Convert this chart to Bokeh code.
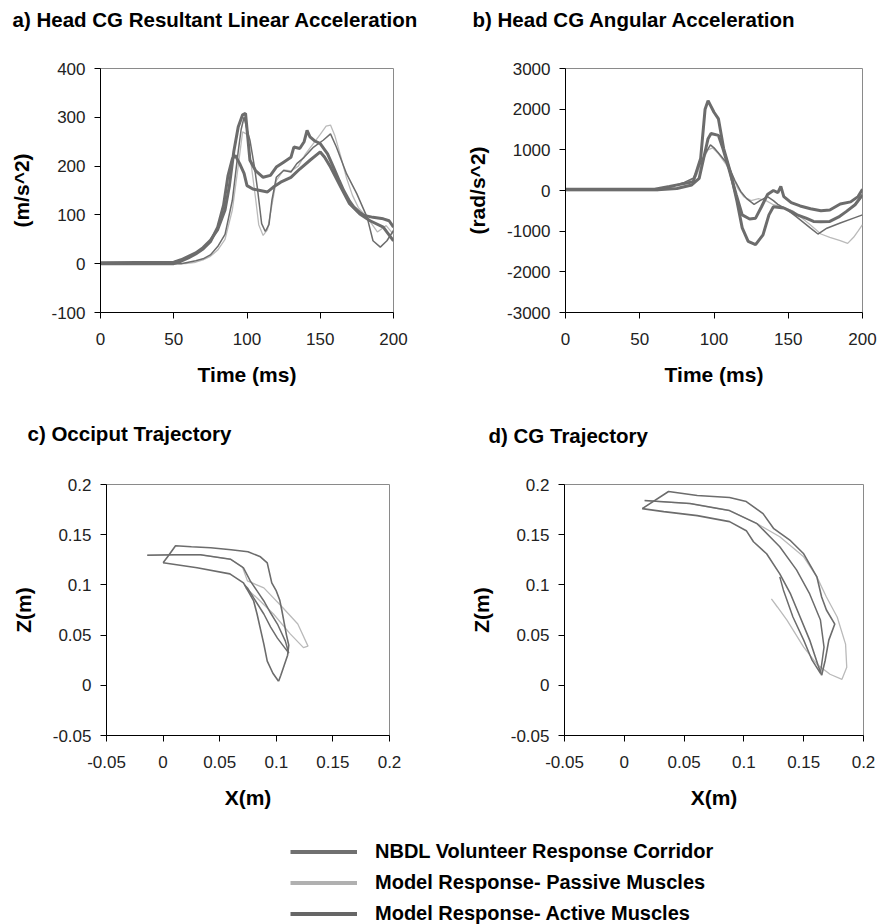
from bokeh.plotting import figure
from bokeh.layouts import column, row
from bokeh.models import Range1d, FixedTicker, PrintfTickFormatter, Legend, LegendItem, Title
from bokeh.core.properties import value
from bokeh.embed import file_html
from bokeh.resources import INLINE

# ---------------- data ----------------
# a) Head CG resultant linear acceleration (m/s^2) vs time (ms)
A_CORR_UP_T = [0, 50, 55, 60, 65, 70, 75, 80, 85, 88, 91, 94, 97, 99, 102, 106, 111, 116, 120, 125,
               130, 132, 136, 139, 141, 143, 146, 150, 155, 159, 163, 166, 170, 173, 177, 180, 186, 193, 197, 200]
A_CORR_UP_V = [2, 3, 8, 15, 22, 33, 48, 70, 110, 160, 230, 280, 305, 308, 212, 190, 177, 181, 198, 208,
               218, 239, 236, 250, 273, 260, 252, 246, 225, 198, 170, 150, 128, 116, 105, 99, 95, 92, 88, 75]
A_CORR_LO_T = [0, 50, 55, 60, 65, 70, 75, 80, 84, 87, 90, 92, 95, 98, 100, 104, 109, 114, 118, 123,
               130, 136, 143, 150, 153, 157, 164, 170, 177, 184, 193, 200]
A_CORR_LO_V = [0, 0, 5, 12, 20, 30, 45, 75, 120, 180, 215, 222, 205, 185, 160, 153, 150, 147, 157, 167,
               177, 194, 212, 229, 218, 198, 157, 123, 102, 88, 75, 47]
A_ACT_T = [0, 55, 60, 65, 70, 75, 80, 85, 90, 94, 96, 98, 100, 102, 105, 107, 110, 112.5, 115, 117,
           120, 125, 130, 134, 139, 145.5, 152, 157, 161, 168, 175, 182, 186, 191, 195.5, 200]
A_ACT_V = [0, 0, 3, 6, 10, 18, 35, 60, 130, 230, 275, 300, 275, 253, 200, 157, 82, 66, 80, 130,
           177, 191, 188, 205, 218, 239, 253, 266, 239, 184, 143, 95, 47, 34, 47, 68]
A_PAS_T = [0, 58, 65, 70, 75, 80, 85, 90, 94, 97, 100, 103, 106, 108, 111, 114, 117, 120, 125, 130,
           135, 140, 145, 150, 154, 157, 160, 164, 168, 172, 176, 182, 189, 195, 200]
A_PAS_V = [0, 0, 3, 8, 15, 28, 50, 110, 200, 270, 265, 200, 130, 80, 58, 70, 120, 170, 192, 190,
           200, 225, 245, 265, 282, 284, 262, 220, 175, 140, 115, 95, 65, 78, 60]

# b) Head CG angular acceleration (rad/s^2) vs time (ms)
B_CORR_A_T = [0, 60, 70, 77, 86, 91, 94, 96, 100, 103, 106.5, 111, 115.5, 119, 123, 128, 133, 137, 140, 147,
              152, 156, 162, 167, 172, 178, 184, 189, 195, 200]
B_CORR_A_V = [30, 30, 100, 150, 215, 786, 2000, 2210, 1925, 1760, 1030, 460, -270, -920, -1250, -1330, -1090, -600, -400, -430,
              -520, -600, -680, -760, -770, -760, -650, -520, -350, -110]
B_CORR_B_T = [0, 62, 75, 85, 90, 93, 96, 98, 103, 106, 110, 115, 119, 124, 128, 132, 136, 140, 143, 145,
              147, 152, 158, 165, 172, 178, 185, 192, 197, 200]
B_CORR_B_V = [20, 20, 50, 135, 300, 786, 1275, 1400, 1355, 1030, 540, -110, -600, -700, -680, -400, -100, 0, -50, 100,
              -150, -300, -380, -450, -500, -480, -330, -280, -150, 30]
B_ACT_T = [0, 60, 70, 80, 86, 90, 94, 97.6, 100, 104, 108, 111, 114, 118, 122, 127, 131, 136, 140, 143,
           149, 156, 165, 170, 176, 185, 194, 200]
B_ACT_V = [20, 20, 80, 200, 300, 600, 900, 1120, 1050, 880, 700, 500, 250, -24, -200, -340, -250, -150, -250, -340,
           -463, -660, -927, -1070, -927, -800, -680, -600]
B_PAS_T = [0, 62, 72, 82, 88, 92, 96, 99, 103, 108, 112, 116, 120, 125, 130, 135, 140, 146, 153, 160,
           165, 172, 178, 185, 190, 194, 197, 200]
B_PAS_V = [0, 0, 100, 200, 350, 700, 1000, 1050, 900, 650, 400, 50, -150, -250, -200, -250, -350, -400, -500, -700,
           -850, -1070, -1150, -1230, -1300, -1150, -1000, -840]

# c) Occiput trajectory, Z(m) vs X(m)
C_CORR_UP_X = [0.000, 0.004, 0.011, 0.025, 0.042, 0.060, 0.075, 0.086, 0.092, 0.094, 0.096, 0.100, 0.103,
               0.105, 0.107, 0.109, 0.111, 0.110, 0.107, 0.104, 0.102]
C_CORR_UP_Y = [0.122, 0.128, 0.139, 0.138, 0.137, 0.135, 0.133, 0.128, 0.122, 0.112, 0.102, 0.094, 0.085,
               0.074, 0.062, 0.050, 0.040, 0.030, 0.020, 0.010, 0.004]
C_CORR_LO_X = [0.000, 0.030, 0.059, 0.071, 0.080, 0.083, 0.086, 0.089, 0.092, 0.097, 0.102]
C_CORR_LO_Y = [0.122, 0.117, 0.111, 0.102, 0.084, 0.071, 0.056, 0.041, 0.024, 0.012, 0.004]
C_ACT_X = [-0.014, 0.010, 0.033, 0.0595, 0.071, 0.077, 0.083, 0.089, 0.095, 0.101, 0.108, 0.111,
           0.107, 0.101, 0.095, 0.089, 0.080, 0.0745, 0.072]
C_ACT_Y = [0.1296, 0.130, 0.130, 0.1256, 0.117, 0.104, 0.094, 0.084, 0.072, 0.061, 0.044, 0.032,
           0.038, 0.047, 0.058, 0.071, 0.087, 0.097, 0.100]
C_PAS_X = [-0.014, 0.010, 0.033, 0.0595, 0.070, 0.0745, 0.089, 0.106, 0.119, 0.128, 0.124, 0.1125,
           0.0975, 0.083, 0.073]
C_PAS_Y = [0.1296, 0.130, 0.130, 0.1256, 0.118, 0.104, 0.097, 0.077, 0.061, 0.039, 0.0375, 0.051,
           0.071, 0.087, 0.097]

# d) CG trajectory, Z(m) vs X(m)
D_CORR_UP_X = [0.015, 0.037, 0.061, 0.088, 0.102, 0.116, 0.125, 0.139, 0.150, 0.161, 0.165, 0.169, 0.176,
               0.171, 0.168, 0.165]
D_CORR_UP_Y = [0.176, 0.193, 0.189, 0.187, 0.183, 0.171, 0.156, 0.144, 0.131, 0.108, 0.088, 0.075, 0.061,
               0.045, 0.025, 0.010]
D_CORR_LO_X = [0.015, 0.033, 0.061, 0.088, 0.102, 0.108, 0.119, 0.130, 0.139, 0.147, 0.155, 0.162, 0.165]
D_CORR_LO_Y = [0.176, 0.173, 0.169, 0.163, 0.154, 0.143, 0.131, 0.111, 0.091, 0.068, 0.045, 0.020, 0.010]
D_ACT_X = [0.017, 0.055, 0.088, 0.111, 0.130, 0.144, 0.155, 0.164, 0.167, 0.164, 0.157, 0.150, 0.141,
           0.133, 0.130]
D_ACT_Y = [0.184, 0.181, 0.174, 0.161, 0.138, 0.115, 0.091, 0.065, 0.038, 0.012, 0.025, 0.045, 0.068,
           0.095, 0.108]
D_PAS_X = [0.017, 0.055, 0.088, 0.111, 0.130, 0.150, 0.161, 0.169, 0.178, 0.185, 0.186, 0.182, 0.172,
           0.161, 0.150, 0.136, 0.128, 0.123]
D_PAS_Y = [0.184, 0.181, 0.174, 0.161, 0.148, 0.128, 0.108, 0.088, 0.068, 0.041, 0.018, 0.006, 0.011,
           0.021, 0.038, 0.065, 0.078, 0.086]

TIME_TICKS = [0, 50, 100, 150, 200]
LIN_TICKS = [-100, 0, 100, 200, 300, 400]
ANG_TICKS = [-3000, -2000, -1000, 0, 1000, 2000, 3000]
POS_TICKS = [-0.05, 0, 0.05, 0.1, 0.15, 0.2]

LEGEND_LABELS = ["NBDL Volunteer Response Corridor",
                 "Model Response- Passive Muscles",
                 "Model Response- Active Muscles"]
NO_DATA = [float("nan")]  # legend proxies draw nothing in the strip

# ---------------- style ----------------
DARK = "#6c6c6c"
LIGHT = "#bababa"
FONT = "Liberation Sans"


def make_fig(w, h, ml, mr, mt, mb, xr, yr, xt, yt, title, xlabel, ylabel, toff, gap):
    p = figure(width=w, height=h, output_backend="svg", toolbar_location=None,
               x_range=Range1d(*xr), y_range=Range1d(*yr),
               min_border_left=ml, min_border_right=mr, min_border_top=mt, min_border_bottom=mb,
               title=title)
    p.title.text_font = FONT
    p.title.text_font_size = "20.5px"
    p.title.text_font_style = "bold"
    p.title.text_color = "black"
    p.title.align = "left"
    p.title.offset = toff
    p.title.standoff = 0
    # thin spacer between the frame and the title, so the title sits at the top of the panel
    p.add_layout(Title(text=" ", text_font_size="1px", standoff=gap), "above")
    p.xaxis.ticker = FixedTicker(ticks=xt)
    p.yaxis.ticker = FixedTicker(ticks=yt)
    p.xaxis.formatter = PrintfTickFormatter(format="%g")
    p.yaxis.formatter = PrintfTickFormatter(format="%g")
    p.xaxis.axis_label = xlabel
    p.yaxis.axis_label = ylabel
    for ax in (p.xaxis[0], p.yaxis[0]):
        ax.axis_line_color = "black"
        ax.major_tick_line_color = "black"
        ax.major_tick_in = 0
        ax.major_tick_out = 6
        ax.minor_tick_line_color = None
        ax.major_label_text_font = FONT
        ax.major_label_text_font_size = "17px"
        ax.major_label_text_color = "#222222"
        ax.axis_label_text_font = FONT
        ax.axis_label_text_font_size = "21px"
        ax.axis_label_text_font_style = "bold"
        ax.axis_label_text_color = "black"
    p.xaxis.major_label_standoff = 14
    p.yaxis.major_label_standoff = 9
    p.xaxis.axis_label_standoff = 15
    p.yaxis.axis_label_standoff = 15
    p.xgrid.visible = False
    p.ygrid.visible = False
    p.outline_line_color = "#8a8a8a"
    p.outline_line_width = 1
    p.background_fill_color = "white"
    p.border_fill_color = "white"
    return p


fa = make_fig(430, 400, 100, 37, 68, 88, (0, 200), (-100, 400), TIME_TICKS, LIN_TICKS,
              "a) Head CG Resultant Linear Acceleration", "Time (ms)", "(m/s^2)", -88, 35)
fa.line(A_PAS_T, A_PAS_V, line_color=LIGHT, line_width=1.3)
fa.line(A_ACT_T, A_ACT_V, line_color=DARK, line_width=1.5)
fa.line(A_CORR_LO_T, A_CORR_LO_V, line_color=DARK, line_width=3)
fa.line(A_CORR_UP_T, A_CORR_UP_V, line_color=DARK, line_width=3)

fb = make_fig(447, 400, 135, 15, 66, 88, (0, 200), (-3000, 3000), TIME_TICKS, ANG_TICKS,
              "b) Head CG Angular Acceleration", "Time (ms)", "(rad/s^2)", -93, 35)
fb.line(B_PAS_T, B_PAS_V, line_color=LIGHT, line_width=1.3)
fb.line(B_ACT_T, B_ACT_V, line_color=DARK, line_width=1.5)
fb.line(B_CORR_A_T, B_CORR_A_V, line_color=DARK, line_width=3)
fb.line(B_CORR_B_T, B_CORR_B_V, line_color=DARK, line_width=3)

fc = make_fig(430, 415, 106, 41, 83, 80, (-0.05, 0.2), (-0.05, 0.2), POS_TICKS, POS_TICKS,
              "c) Occiput Trajectory", "X(m)", "Z(m)", -79, 37)
fc.line(C_PAS_X, C_PAS_Y, line_color=LIGHT, line_width=1.3)
fc.line(C_ACT_X, C_ACT_Y, line_color=DARK, line_width=1.5)
fc.line(C_CORR_UP_X, C_CORR_UP_Y, line_color=DARK, line_width=1.6)
fc.line(C_CORR_LO_X, C_CORR_LO_Y, line_color=DARK, line_width=1.6)

fd = make_fig(447, 415, 134, 14, 84, 80, (-0.05, 0.2), (-0.05, 0.2), POS_TICKS, POS_TICKS,
              "d) CG Trajectory", "X(m)", "Z(m)", -76, 35)
fd.line(D_PAS_X, D_PAS_Y, line_color=LIGHT, line_width=1.3)
fd.line(D_ACT_X, D_ACT_Y, line_color=DARK, line_width=1.5)
fd.line(D_CORR_UP_X, D_CORR_UP_Y, line_color=DARK, line_width=1.6)
fd.line(D_CORR_LO_X, D_CORR_LO_Y, line_color=DARK, line_width=1.6)

# legend strip
pl = figure(width=877, height=109, output_backend="svg", toolbar_location=None,
            x_range=Range1d(0, 1), y_range=Range1d(0, 1),
            x_axis_location=None, y_axis_location=None, min_border=0)
pl.xgrid.visible = False
pl.ygrid.visible = False
pl.outline_line_color = None
r_corr = pl.line(NO_DATA, NO_DATA, line_color="#707070", line_width=4)
r_pas = pl.line(NO_DATA, NO_DATA, line_color="#b0b0b0", line_width=4)
r_act = pl.line(NO_DATA, NO_DATA, line_color="#666666", line_width=4)
legend = Legend(items=[LegendItem(label=value(LEGEND_LABELS[0]), renderers=[r_corr]),
                       LegendItem(label=value(LEGEND_LABELS[1]), renderers=[r_pas]),
                       LegendItem(label=value(LEGEND_LABELS[2]), renderers=[r_act])],
                location=(290, -1), glyph_width=67, glyph_height=21, label_height=21,
                label_standoff=18, spacing=8, padding=0, margin=0,
                border_line_color=None, background_fill_alpha=0,
                label_text_font=FONT, label_text_font_size="20px", label_text_font_style="bold",
                label_text_color="black")
pl.add_layout(legend)

layout = column(row(fa, fb), row(fc, fd), pl)

with open("out.html", "w") as f:
    f.write(file_html(layout, INLINE))
